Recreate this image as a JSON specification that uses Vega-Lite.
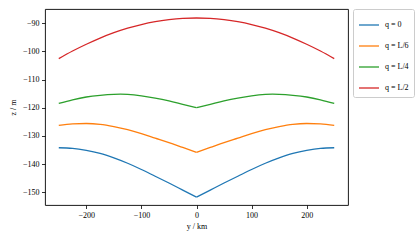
{
  "$schema": "https://vega.github.io/schema/vega-lite/v6.json",
  "autosize": {"type": "none"},
  "padding": {"left": 45, "top": 9, "right": 67, "bottom": 35},
  "width": 303,
  "height": 196,
  "config": {
    "font": "Liberation Serif",
    "view": {"stroke": "#000", "strokeWidth": 0.9},
    "axis": {
      "domain": false, "grid": false,
      "tickColor": "#000", "tickSize": 3.5, "tickWidth": 0.8,
      "labelFont": "Liberation Serif", "labelFontSize": 8, "labelColor": "#000", "labelPadding": 2.5,
      "titleFont": "Liberation Serif", "titleFontSize": 8, "titleFontWeight": "normal", "titleColor": "#000"
    },
    "legend": {
      "labelFont": "Liberation Serif", "labelFontSize": 8, "labelColor": "#000"
    }
  },
  "data": {
    "values": [
      {"y": -250, "z": -134.2, "q": "q = 0", "s": "L"},
      {"y": -225, "z": -134.4, "q": "q = 0", "s": "L"},
      {"y": -200, "z": -135.1, "q": "q = 0", "s": "L"},
      {"y": -175, "z": -136.2, "q": "q = 0", "s": "L"},
      {"y": -150, "z": -137.8, "q": "q = 0", "s": "L"},
      {"y": -125, "z": -139.7, "q": "q = 0", "s": "L"},
      {"y": -100, "z": -141.9, "q": "q = 0", "s": "L"},
      {"y": -75, "z": -144.3, "q": "q = 0", "s": "L"},
      {"y": -50, "z": -146.7, "q": "q = 0", "s": "L"},
      {"y": -25, "z": -149.2, "q": "q = 0", "s": "L"},
      {"y": 0, "z": -151.7, "q": "q = 0", "s": "L"},
      {"y": 0, "z": -151.7, "q": "q = 0", "s": "R"},
      {"y": 25, "z": -149.2, "q": "q = 0", "s": "R"},
      {"y": 50, "z": -146.7, "q": "q = 0", "s": "R"},
      {"y": 75, "z": -144.3, "q": "q = 0", "s": "R"},
      {"y": 100, "z": -141.9, "q": "q = 0", "s": "R"},
      {"y": 125, "z": -139.7, "q": "q = 0", "s": "R"},
      {"y": 150, "z": -137.8, "q": "q = 0", "s": "R"},
      {"y": 175, "z": -136.2, "q": "q = 0", "s": "R"},
      {"y": 200, "z": -135.1, "q": "q = 0", "s": "R"},
      {"y": 225, "z": -134.4, "q": "q = 0", "s": "R"},
      {"y": 250, "z": -134.2, "q": "q = 0", "s": "R"},

      {"y": -250, "z": -126.3, "q": "q = L/6", "s": "L"},
      {"y": -225, "z": -125.7, "q": "q = L/6", "s": "L"},
      {"y": -200, "z": -125.6, "q": "q = L/6", "s": "L"},
      {"y": -175, "z": -125.9, "q": "q = L/6", "s": "L"},
      {"y": -150, "z": -126.7, "q": "q = L/6", "s": "L"},
      {"y": -125, "z": -127.8, "q": "q = L/6", "s": "L"},
      {"y": -100, "z": -129.2, "q": "q = L/6", "s": "L"},
      {"y": -75, "z": -130.8, "q": "q = L/6", "s": "L"},
      {"y": -50, "z": -132.4, "q": "q = L/6", "s": "L"},
      {"y": -25, "z": -134.1, "q": "q = L/6", "s": "L"},
      {"y": 0, "z": -135.8, "q": "q = L/6", "s": "L"},
      {"y": 0, "z": -135.8, "q": "q = L/6", "s": "R"},
      {"y": 25, "z": -134.1, "q": "q = L/6", "s": "R"},
      {"y": 50, "z": -132.4, "q": "q = L/6", "s": "R"},
      {"y": 75, "z": -130.8, "q": "q = L/6", "s": "R"},
      {"y": 100, "z": -129.2, "q": "q = L/6", "s": "R"},
      {"y": 125, "z": -127.8, "q": "q = L/6", "s": "R"},
      {"y": 150, "z": -126.7, "q": "q = L/6", "s": "R"},
      {"y": 175, "z": -125.9, "q": "q = L/6", "s": "R"},
      {"y": 200, "z": -125.6, "q": "q = L/6", "s": "R"},
      {"y": 225, "z": -125.7, "q": "q = L/6", "s": "R"},
      {"y": 250, "z": -126.3, "q": "q = L/6", "s": "R"},

      {"y": -250, "z": -118.5, "q": "q = L/4", "s": "L"},
      {"y": -225, "z": -117.2, "q": "q = L/4", "s": "L"},
      {"y": -200, "z": -116.2, "q": "q = L/4", "s": "L"},
      {"y": -175, "z": -115.6, "q": "q = L/4", "s": "L"},
      {"y": -150, "z": -115.25, "q": "q = L/4", "s": "L"},
      {"y": -138, "z": -115.2, "q": "q = L/4", "s": "L"},
      {"y": -125, "z": -115.3, "q": "q = L/4", "s": "L"},
      {"y": -100, "z": -115.8, "q": "q = L/4", "s": "L"},
      {"y": -75, "z": -116.6, "q": "q = L/4", "s": "L"},
      {"y": -50, "z": -117.6, "q": "q = L/4", "s": "L"},
      {"y": -25, "z": -118.8, "q": "q = L/4", "s": "L"},
      {"y": 0, "z": -120.0, "q": "q = L/4", "s": "L"},
      {"y": 0, "z": -120.0, "q": "q = L/4", "s": "R"},
      {"y": 25, "z": -118.8, "q": "q = L/4", "s": "R"},
      {"y": 50, "z": -117.6, "q": "q = L/4", "s": "R"},
      {"y": 75, "z": -116.6, "q": "q = L/4", "s": "R"},
      {"y": 100, "z": -115.8, "q": "q = L/4", "s": "R"},
      {"y": 125, "z": -115.3, "q": "q = L/4", "s": "R"},
      {"y": 138, "z": -115.2, "q": "q = L/4", "s": "R"},
      {"y": 150, "z": -115.25, "q": "q = L/4", "s": "R"},
      {"y": 175, "z": -115.6, "q": "q = L/4", "s": "R"},
      {"y": 200, "z": -116.2, "q": "q = L/4", "s": "R"},
      {"y": 225, "z": -117.2, "q": "q = L/4", "s": "R"},
      {"y": 250, "z": -118.5, "q": "q = L/4", "s": "R"},

      {"y": -250, "z": -102.6, "q": "q = L/2", "s": "L"},
      {"y": -225, "z": -99.9, "q": "q = L/2", "s": "L"},
      {"y": -200, "z": -97.5, "q": "q = L/2", "s": "L"},
      {"y": -175, "z": -95.3, "q": "q = L/2", "s": "L"},
      {"y": -150, "z": -93.4, "q": "q = L/2", "s": "L"},
      {"y": -125, "z": -91.8, "q": "q = L/2", "s": "L"},
      {"y": -100, "z": -90.5, "q": "q = L/2", "s": "L"},
      {"y": -75, "z": -89.5, "q": "q = L/2", "s": "L"},
      {"y": -50, "z": -88.8, "q": "q = L/2", "s": "L"},
      {"y": -25, "z": -88.35, "q": "q = L/2", "s": "L"},
      {"y": 0, "z": -88.2, "q": "q = L/2", "s": "L"},
      {"y": 25, "z": -88.35, "q": "q = L/2", "s": "L"},
      {"y": 50, "z": -88.8, "q": "q = L/2", "s": "L"},
      {"y": 75, "z": -89.5, "q": "q = L/2", "s": "L"},
      {"y": 100, "z": -90.5, "q": "q = L/2", "s": "L"},
      {"y": 125, "z": -91.8, "q": "q = L/2", "s": "L"},
      {"y": 150, "z": -93.4, "q": "q = L/2", "s": "L"},
      {"y": 175, "z": -95.3, "q": "q = L/2", "s": "L"},
      {"y": 200, "z": -97.5, "q": "q = L/2", "s": "L"},
      {"y": 225, "z": -99.9, "q": "q = L/2", "s": "L"},
      {"y": 250, "z": -102.6, "q": "q = L/2", "s": "L"}
    ]
  },
  "mark": {"type": "line", "strokeWidth": 1.3, "interpolate": "monotone", "clip": true},
  "encoding": {
    "x": {
      "field": "y", "type": "quantitative",
      "scale": {"domain": [-275, 275], "nice": false, "zero": false},
      "axis": {"values": [-200, -100, 0, 100, 200], "title": "y / km", "titlePadding": 3}
    },
    "y": {
      "field": "z", "type": "quantitative",
      "scale": {"domain": [-154.5, -85], "nice": false, "zero": false},
      "axis": {"values": [-150, -140, -130, -120, -110, -100, -90], "title": "z / m", "titlePadding": 5}
    },
    "color": {
      "field": "q", "type": "nominal",
      "scale": {
        "domain": ["q = 0", "q = L/6", "q = L/4", "q = L/2"],
        "range": ["#1f77b4", "#ff7f0e", "#2ca02c", "#d62728"]
      },
      "legend": {
        "title": null, "orient": "right", "offset": 5,
        "symbolType": "stroke", "symbolSize": 400, "symbolStrokeWidth": 1.3,
        "rowPadding": 6, "labelOffset": 5,
        "strokeColor": "#cccccc", "cornerRadius": 2, "padding": 5, "fillColor": "#ffffff"
      }
    },
    "detail": {"field": "s", "type": "nominal"}
  }
}
